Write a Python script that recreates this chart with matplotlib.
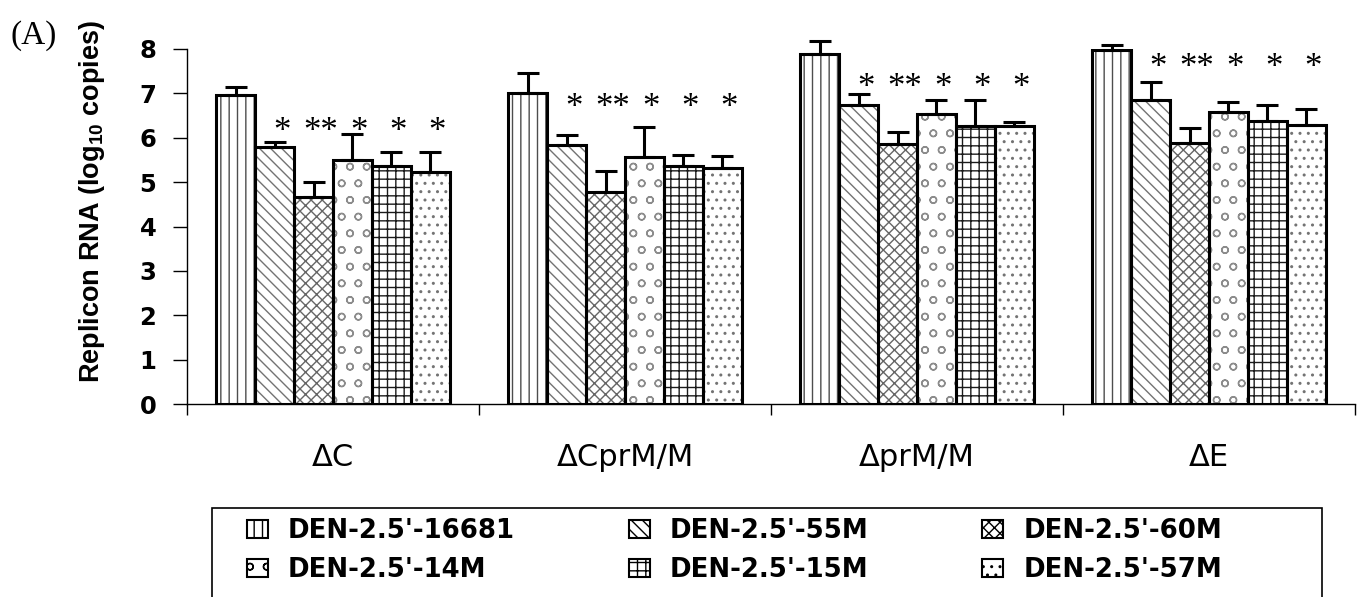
import numpy as np
import matplotlib
matplotlib.use('Agg')
import matplotlib.pyplot as plt
from matplotlib.patches import Patch, Rectangle

plt.rcParams['font.family'] = ['DejaVu Sans']
plt.rcParams['mathtext.fontset'] = 'custom'
plt.rcParams['mathtext.rm'] = 'Liberation Sans:bold'
plt.rcParams['mathtext.default'] = 'rm'
plt.rcParams['hatch.linewidth'] = 1.0

# data
groups = ['\u0394C', '\u0394CprM/M', '\u0394prM/M', '\u0394E']
strains = ["DEN-2.5'-16681", "DEN-2.5'-55M", "DEN-2.5'-60M",
           "DEN-2.5'-14M", "DEN-2.5'-15M", "DEN-2.5'-57M"]
means = np.array([
    [6.97, 5.79, 4.66, 5.50, 5.36, 5.23],
    [7.00, 5.84, 4.78, 5.57, 5.36, 5.32],
    [7.89, 6.74, 5.86, 6.54, 6.26, 6.26],
    [7.98, 6.85, 5.88, 6.58, 6.38, 6.29],
])
errs = np.array([
    [0.18, 0.11, 0.34, 0.58, 0.32, 0.45],
    [0.46, 0.22, 0.47, 0.67, 0.25, 0.27],
    [0.29, 0.25, 0.27, 0.31, 0.59, 0.10],
    [0.10, 0.41, 0.34, 0.22, 0.36, 0.36],
])
stars = ['', '*', '**', '*', '*', '*']
star_level = [6.33, 6.87, 7.32, 7.77]

hatches = ['||', '\\\\\\', 'xxx', 'o', '++', '..']
hatch_cols = ['0.3', '0.45', '0.4', '0.55', '0.1', '0.45']

W, H = 1364, 597
fig = plt.figure(figsize=(W/100, H/100), dpi=100)
ax = fig.add_axes([187/W, 1-404/H, 1168/W, 355/H])

n = len(strains)
w = 0.8/n
centers = np.arange(len(groups)) + 0.5
for j in range(n):
    x = centers + (j - (n-1)/2)*w
    ax.bar(x, means[:, j], w, color='white', edgecolor=hatch_cols[j],
           hatch=hatches[j], linewidth=0, zorder=2)
    ax.bar(x, means[:, j], w, fill=False, edgecolor='black',
           linewidth=2.2, zorder=3)
    eb = ax.errorbar(x, means[:, j], yerr=[np.zeros(len(groups)), errs[:, j]],
                     fmt='none', ecolor='black', elinewidth=2.2, capsize=8,
                     capthick=2.2, zorder=4)
    for art in eb.get_children():
        art.set_clip_on(False)
    if stars[j]:
        for i in range(len(groups)):
            ax.annotate(stars[j], xy=(x[i], star_level[i]), xytext=(5, -13),
                        textcoords='offset points', ha='center', va='baseline',
                        fontsize=25, family='Liberation Serif')

ax.set_xlim(0, len(groups))
ax.set_ylim(0, 8)
ax.set_yticks(range(9))
ax.set_yticklabels([str(v) for v in range(9)], fontsize=17.5, fontweight='bold')
ax.tick_params(axis='y', length=10, width=1, pad=12)
ax.set_xticks(centers)
ax.set_xticklabels(groups, fontsize=22)
ax.tick_params(axis='x', which='major', length=0, pad=28)
ax.set_xticks(np.arange(len(groups)+1), minor=True)
ax.tick_params(axis='x', which='minor', length=8, width=1)
for s in ['top', 'right']:
    ax.spines[s].set_visible(False)
ax.spines['left'].set_linewidth(1)
ax.spines['bottom'].set_linewidth(1)

ax.set_ylabel(r'Replicon RNA (log$_{10}$ copies)', fontsize=19.5,
              fontweight='bold', family='Liberation Sans')
ax.yaxis.set_label_coords(-0.0685, 0.57)

fig.text(10/W, 1-36/H, '(A)', family='Liberation Serif', fontsize=24,
         va='center', ha='left')

# legend box runs off the bottom of the figure
fig.patches.append(Rectangle((212/W, -0.1), 1110/W, 0.1 + 1-508/H,
                             transform=fig.transFigure, fill=False,
                             edgecolor='black', linewidth=1.2))

# legend fills column-wise, so reorder to read row-wise
handles = [Patch(facecolor='white', edgecolor='black', hatch=hatches[j], linewidth=1.5)
           for j in range(n)]
order = [0, 3, 1, 4, 2, 5]
fig.legend([handles[k] for k in order], [strains[k] for k in order],
           loc='upper left', ncol=3, mode='expand',
           bbox_to_anchor=(247/W, 0, 975/W, 1-518/H),
           prop={'weight': 'bold', 'size': 18.7}, frameon=False,
           borderpad=0, handlelength=0.8, handleheight=0.65, handletextpad=0.77,
           labelspacing=0.5, borderaxespad=0)

fig.savefig('out.png', dpi=100)
